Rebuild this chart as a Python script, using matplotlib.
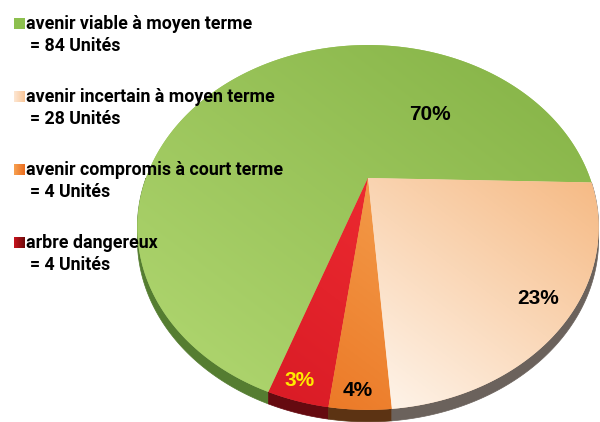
import numpy as np
import matplotlib
matplotlib.use("Agg")
import matplotlib.pyplot as plt
from matplotlib.patches import Polygon
from matplotlib.colors import to_rgb

# ---- data ----
categories = ["avenir viable à moyen terme", "avenir incertain à moyen terme",
              "avenir compromis à court terme", "arbre dangereux"]
units = [84, 28, 4, 4]
unit_labels = ["= 84 Unités", "= 28 Unités", "= 4 Unités", "= 4 Unités"]
pct_labels = ["70%", "23%", "4%", "3%"]
pct_colors = ["black", "black", "black", "#ffea00"]
# wedge order around the pie (counter-clockwise from the right)
wedge_order = [0, 3, 2, 1]

# ---- style ----
top_grad = {0: ("#8ab74b", "#acd36c"),   # green (far -> near)
            1: ("#f6bb86", "#fef3e8"),   # peach
            2: ("#f39a48", "#ec7a28"),   # orange
            3: ("#ec2a30", "#da1c26")}   # red
side_col = {0: "#557d31", 1: "#6b625c", 2: "#5c3313", 3: "#650a10"}
legend_grad = {0: ("#8dc04f", "#8dc04f"), 1: ("#fde6d2", "#f9c79a"),
               2: ("#f7a050", "#ea6e20"), 3: ("#c8141e", "#6e0a0a")}

W, H = 600, 422
fig = plt.figure(figsize=(W / 100, H / 100), dpi=100)
ax = fig.add_axes([0, 0, 1, 1])
ax.set_xlim(0, W)
ax.set_ylim(H, 0)
ax.axis("off")

# perspective pie geometry
cx, cy = 368, 178
a, b, k = 222, 169, 0.271
thick = 12
start = np.deg2rad(-1.5)

def proj(t):
    x, y = np.cos(t), np.sin(t)
    den = 1 + k * y
    return cx + a * x / den, cy - b * y / den

total = float(sum(units))
vals = np.array([units[i] for i in wedge_order], dtype=float)
bounds = start + 2 * np.pi * np.concatenate([[0], np.cumsum(vals)]) / total

YY, XX = np.mgrid[0:H, 0:W] + 0.5

# sides (depth)
for j, idx in enumerate(wedge_order):
    t0, t1 = bounds[j], bounds[j + 1]
    lo, hi = max(t0, np.pi), min(t1, 2 * np.pi)
    if hi <= lo:
        continue
    t = np.linspace(lo, hi, 200)
    px, py = proj(t)
    xs = np.concatenate([px, px[::-1]])
    ys = np.concatenate([py, py[::-1] + thick])
    ax.add_patch(Polygon(np.column_stack([xs, ys]), closed=True,
                         facecolor=side_col[idx], edgecolor=side_col[idx], lw=0.5, zorder=1))

# tops with gradients
for j, idx in enumerate(wedge_order):
    t0, t1 = bounds[j], bounds[j + 1]
    t = np.linspace(t0, t1, 400)
    px, py = proj(t)
    xs = np.concatenate([[cx], px])
    ys = np.concatenate([[cy], py])
    c1, c2 = map(np.array, map(to_rgb, top_grad[idx]))
    poly = Polygon(np.column_stack([xs, ys]), closed=True,
                   facecolor=tuple((c1 + c2) / 2), edgecolor="none", zorder=2)
    ax.add_patch(poly)
    # gradient from top-right (far) to bottom-left (near)
    d = np.array([-0.6, 0.8])
    u = XX * d[0] + YY * d[1]
    proj_pts = xs * d[0] + ys * d[1]
    u = np.clip((u - proj_pts.min()) / (proj_pts.max() - proj_pts.min()), 0, 1)
    img = c1[None, None, :] * (1 - u[..., None]) + c2[None, None, :] * u[..., None]
    im = ax.imshow(img, extent=(0, W, H, 0), zorder=3, interpolation="bilinear")
    im.set_clip_path(poly)

# percentage labels
pct_pos = {0: (430, 115), 1: (538, 298), 2: (358, 390), 3: (300, 380)}
for idx in range(4):
    x, y = pct_pos[idx]
    ax.text(x, y, pct_labels[idx], ha="center", va="center", fontsize=15,
            fontweight="bold", family=["Liberation Sans", "DejaVu Sans"],
            color=pct_colors[idx], zorder=5)

# legend
leg_y = [24, 97, 170, 243]
fam = ["Roboto", "DejaVu Sans"]
for idx in range(4):
    y = leg_y[idx]
    c1, c2 = map(np.array, map(to_rgb, legend_grad[idx]))
    g = np.linspace(0, 1, 20)
    gi = c1[None, None, :] * (1 - g[None, :, None]) + c2[None, None, :] * g[None, :, None]
    gi = np.repeat(gi, 20, axis=0)
    ax.imshow(gi, extent=(14, 24.5, y + 5.5, y - 5), zorder=4, interpolation="bilinear")
    ax.text(26, y, categories[idx], ha="left", va="center", fontsize=12.8,
            fontweight="bold", family=fam, color="black", zorder=5)
    ax.text(30, y + 22, unit_labels[idx], ha="left", va="center", fontsize=12.8,
            fontweight="bold", family=fam, color="black", zorder=5)

ax.set_xlim(0, W)
ax.set_ylim(H, 0)
fig.savefig("out.png", dpi=100)
